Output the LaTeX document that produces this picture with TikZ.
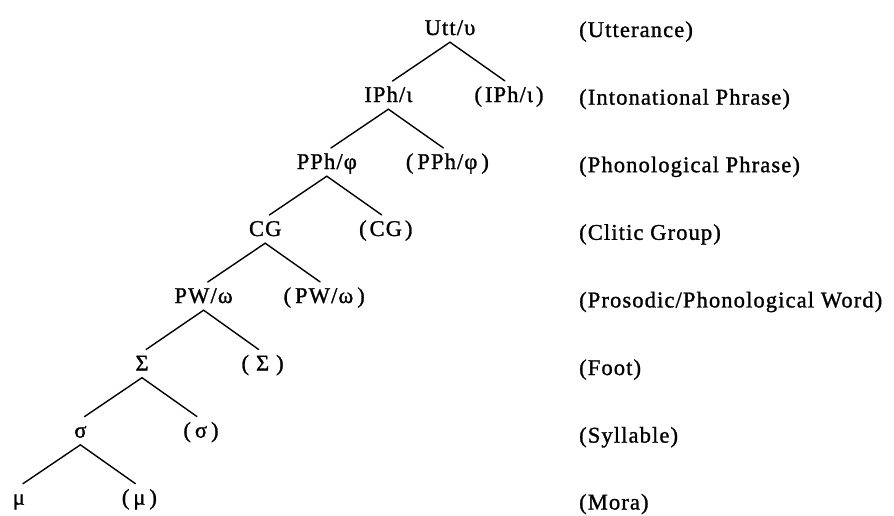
\documentclass[tikz,border=0pt]{standalone}
\usepackage{fontspec}
\setmainfont{Liberation Serif}[LetterSpace=5,FakeBold=1.2]
\newcommand{\pk}[2][3pt]{(\kern#1#2\kern#1)}
\begin{document}
\begin{tikzpicture}[x=1pt,y=-1pt,
  lvl/.style={font=\fontsize{22.5}{25}\selectfont, anchor=base, inner xsep=0pt, inner ysep=3pt, text height=15pt, text depth=4pt},
  lab/.style={lvl, anchor=base west},
  br/.style={line width=1.4pt, shorten >=5pt, line cap=round}]
\useasboundingbox (0,0) rectangle (894,515);
% tree levels
\node[lvl] (u)  at (450,35)   {Utt/υ};
\node[lvl] (i1) at (388.4,102) {IPh/ι};
\node[lvl] (i2) at (509,102)   {\pk{IPh/ι}};
\node[lvl] (p1) at (326.8,169) {PPh/φ};
\node[lvl] (p2) at (447.4,169) {\pk[4pt]{PPh/φ}};
\node[lvl] (c1) at (265.2,236) {CG};
\node[lvl] (c2) at (385.8,236) {\pk{CG}};
\node[lvl] (w1) at (203.6,303) {PW/ω};
\node[lvl] (w2) at (324.2,303) {\pk[4pt]{PW/ω}};
\node[lvl] (f1) at (142,370.5) {Σ};
\node[lvl] (f2) at (262.6,370.5) {\pk[7pt]{Σ}};
\node[lvl] (s1) at (80.4,437.6) {σ};
\node[lvl] (s2) at (201,437.6) {\pk[4pt]{σ}};
\node[lvl] (m1) at (18.8,504.7) {μ};
\node[lvl] (m2) at (139.4,504.7) {\pk[4pt]{μ}};
% branches
\draw[br] (u.south) -- (i1.north);
\draw[br] (u.south) -- (i2.north);
\draw[br] (i1.south) -- (p1.north);
\draw[br] (i1.south) -- (p2.north);
\draw[br] (p1.south) -- (c1.north);
\draw[br] (p1.south) -- (c2.north);
\draw[br] (c1.south) -- (w1.north);
\draw[br] (c1.south) -- (w2.north);
\draw[br] (w1.south) -- (f1.north);
\draw[br] (w1.south) -- (f2.north);
\draw[br] (f1.south) -- (s1.north);
\draw[br] (f1.south) -- (s2.north);
\draw[br] (s1.south) -- (m1.north);
\draw[br] (s1.south) -- (m2.north);
% right-hand labels
\node[lab] (l0) at (579,37)    {(Utterance)};
\node[lab] (l1) at (579,104.6) {(Intonational Phrase)};
\node[lab] (l2) at (579,172.2) {(Phonological Phrase)};
\node[lab] (l3) at (579,239.8) {(Clitic Group)};
\node[lab] (l4) at (579,307.4) {(Prosodic/Phonological Word)};
\node[lab] (l5) at (579,375) {(Foot)};
\node[lab] (l6) at (579,442.6) {(Syllable)};
\node[lab] (l7) at (579,509.5) {(Mora)};
\end{tikzpicture}
\end{document}
